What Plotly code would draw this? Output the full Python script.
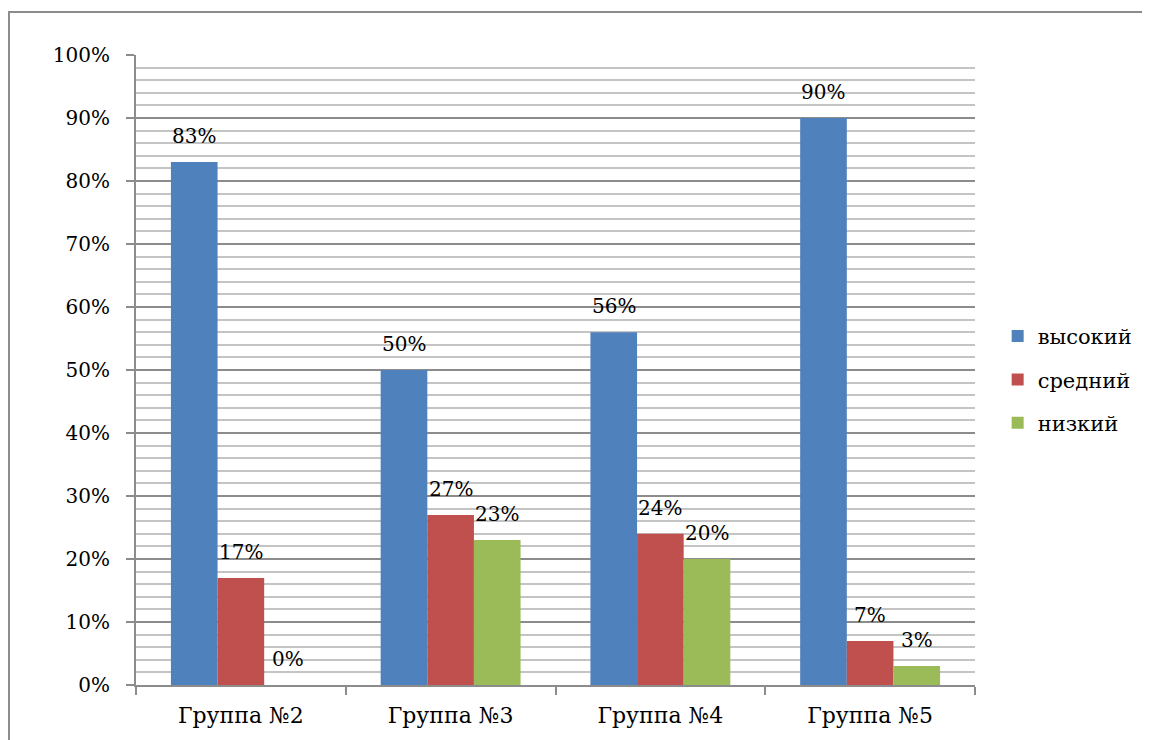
import plotly.graph_objects as go

categories = ["Группа №2", "Группа №3", "Группа №4", "Группа №5"]
series_names = ["высокий", "средний", "низкий"]
vysokiy = [0.83, 0.50, 0.56, 0.90]
sredniy = [0.17, 0.27, 0.24, 0.07]
nizkiy = [0.00, 0.23, 0.20, 0.03]
colors = ["#4F81BD", "#C0504D", "#9BBB59"]

FONT = "DejaVu Serif"
FS = 20

PLOT_W = 839
BARGAP = 0.333
bar_px = PLOT_W / len(categories) * (1 - BARGAP) / len(series_names)

fig = go.Figure()
all_series = [vysokiy, sredniy, nizkiy]
for i, (name, vals) in enumerate(zip(series_names, all_series)):
    fig.add_trace(go.Bar(
        x=categories, y=vals, name=name,
        marker=dict(color=colors[i], line=dict(width=0)),
        cliponaxis=False,
        legendgroup=name,
    ))
    offset = (i - (len(series_names) - 1) / 2) * bar_px
    for cat, v in zip(categories, vals):
        fig.add_annotation(
            x=cat, y=v, text=f"{round(v*100)}%",
            showarrow=False, xanchor="center", yanchor="bottom",
            xshift=offset, yshift=12,
            font=dict(family=FONT, size=FS, color="black"),
        )

fig.update_layout(
    width=1150, height=740,
    margin=dict(l=128, r=183, t=47, b=63),
    paper_bgcolor="white", plot_bgcolor="white",
    barmode="group", bargap=BARGAP, bargroupgap=0,
    font=dict(family=FONT, size=FS, color="black"),
    showlegend=True,
    legend=dict(x=1.027, y=0.485, xanchor="left", yanchor="middle",
                font=dict(family=FONT, size=21, color="black"),
                tracegroupgap=13, traceorder="grouped", itemwidth=30),
)

fig.update_yaxes(
    range=[0, 1], dtick=0.1, tickformat=".0%",
    showgrid=True, gridcolor="#8c8c8c", gridwidth=2,
    minor=dict(dtick=0.02, showgrid=True, gridcolor="#c4c4c4", gridwidth=2),
    showline=True, linecolor="#8c8c8c", linewidth=2,
    ticks="outside", ticklen=8, tickcolor="#8c8c8c", tickwidth=2,
    ticklabelstandoff=12,
    tickfont=dict(family=FONT, size=FS, color="black"),
    zeroline=False,
)
fig.update_xaxes(
    showline=True, linecolor="#8c8c8c", linewidth=2,
    ticks="outside", ticklen=8, tickcolor="#8c8c8c", tickwidth=2,
    tickson="boundaries",
    ticklabelstandoff=10,
    tickfont=dict(family=FONT, size=22, color="black"),
    showgrid=False,
)

# outer chart frame
fig.add_shape(type="rect", xref="paper", yref="paper",
              x0=-0.1514, x1=1.26, y0=-0.25, y1=1.0683,
              line=dict(color="#8c8c8c", width=2), fillcolor="rgba(0,0,0,0)",
              layer="below")

fig.write_html("out.html")
